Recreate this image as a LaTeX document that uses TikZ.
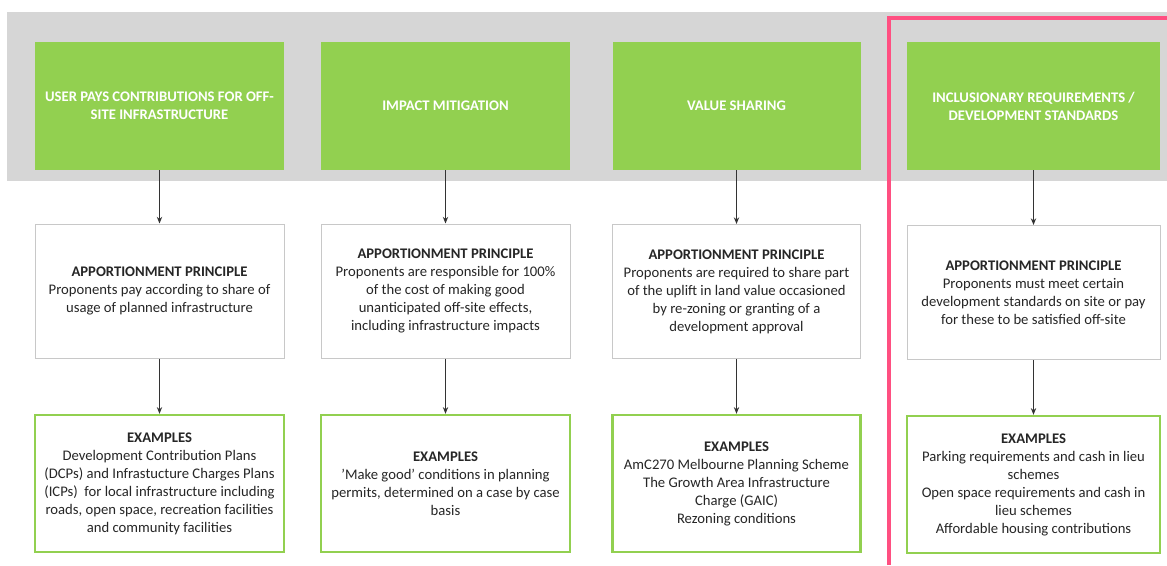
\documentclass[tikz,border=0pt]{standalone}
\usepackage{fontspec}
\setmainfont{Carlito}
\usetikzlibrary{arrows.meta}
\definecolor{band}{HTML}{D6D6D6}
\definecolor{lgreen}{HTML}{92D050}
\definecolor{pinkl}{HTML}{FF4F81}
\definecolor{boxgray}{HTML}{C8C8C8}
\definecolor{txt}{HTML}{262626}
\tikzset{
  topbox/.style={fill=lgreen, text=white, font=\bfseries\fontsize{11}{13.5}\selectfont,
    align=center, minimum height=96pt, inner sep=0pt},
  midbox/.style={draw=boxgray, line width=0.75pt, fill=white, text=txt,
    font=\fontsize{11}{13.5}\selectfont, align=center, minimum height=100.5pt, inner sep=0pt},
  exbox/.style={draw=lgreen, line width=1.8pt, fill=white, text=txt,
    font=\fontsize{11}{13.5}\selectfont, align=center, minimum height=102.75pt, inner sep=0pt},
  conn/.style={-{Stealth[length=5pt,width=4pt]}, draw=black!80, line width=0.8pt},
  pinkline/.style={draw=pinkl, line width=3.2pt}
}
\begin{document}
\begin{tikzpicture}[x=0.75pt,y=-0.75pt]
\useasboundingbox (0,0) rectangle (1167,565);
\fill[band] (7,12) rectangle (1167,181);
% top boxes
\node[topbox, minimum width=186.75pt] (t1) at (159.5,106) {USER PAYS CONTRIBUTIONS FOR OFF-\\SITE INFRASTRUCTURE};
\node[topbox, minimum width=186.75pt] (t2) at (445.5,106) {IMPACT MITIGATION};
\node[topbox, minimum width=186pt] (t3) at (736.5,106) {VALUE SHARING};
\node[topbox, minimum width=189.75pt] (t4) at (1033.5,106) {INCLUSIONARY REQUIREMENTS /\\DEVELOPMENT STANDARDS};
% middle boxes
\node[midbox, minimum width=186.75pt] (m1) at (159.5,291) {\textbf{APPORTIONMENT PRINCIPLE}\\Proponents pay according to share of\\usage of planned infrastructure};
\node[midbox, minimum width=186.75pt] (m2) at (445.5,291) {\textbf{APPORTIONMENT PRINCIPLE}\\Proponents are responsible for 100\%\\of the cost of making good\\unanticipated off-site effects,\\including infrastructure impacts};
\node[midbox, minimum width=186pt] (m3) at (736.5,291.5) {\textbf{APPORTIONMENT PRINCIPLE}\\Proponents are required to share part\\of the uplift in land value occasioned\\by re-zoning or granting of a\\development approval};
\node[midbox, minimum width=189.75pt] (m4) at (1033.5,292.5) {\textbf{APPORTIONMENT PRINCIPLE}\\Proponents must meet certain\\development standards on site or pay\\for these to be satisfied off-site};
% example boxes
\node[exbox, minimum width=186.75pt] (e1) at (159.5,483.5) {\textbf{EXAMPLES}\\Development Contribution Plans\\(DCPs) and Infrastucture Charges Plans\\(ICPs)\ \ for local infrastructure including\\roads, open space, recreation facilities\\and community facilities};
\node[exbox, minimum width=186.75pt] (e2) at (445.5,483.5) {\textbf{EXAMPLES}\\\char39 Make good\char39\ conditions in planning\\permits, determined on a case by case\\basis};
\node[exbox, minimum width=186pt] (e3) at (736.5,483.5) {\textbf{EXAMPLES}\\AmC270 Melbourne Planning Scheme\\The Growth Area Infrastructure\\Charge (GAIC)\\Rezoning conditions};
\node[exbox, minimum width=189.75pt] (e4) at (1033.5,484.5) {\textbf{EXAMPLES}\\Parking requirements and cash in lieu\\schemes\\Open space requirements and cash in\\lieu schemes\\Affordable housing contributions};
% connectors
\foreach \i in {1,2,3,4}{
  \draw[conn] (t\i.south) -- (m\i.north);
  \draw[conn] (m\i.south) -- (e\i.north);
}
% pink frame
\coordinate (pa) at (889,565);
\coordinate (pb) at (889,18);
\coordinate (pc) at (1167,18);
\draw[pinkline] (pa) -- (pb) -- (pc);
\end{tikzpicture}
\end{document}
